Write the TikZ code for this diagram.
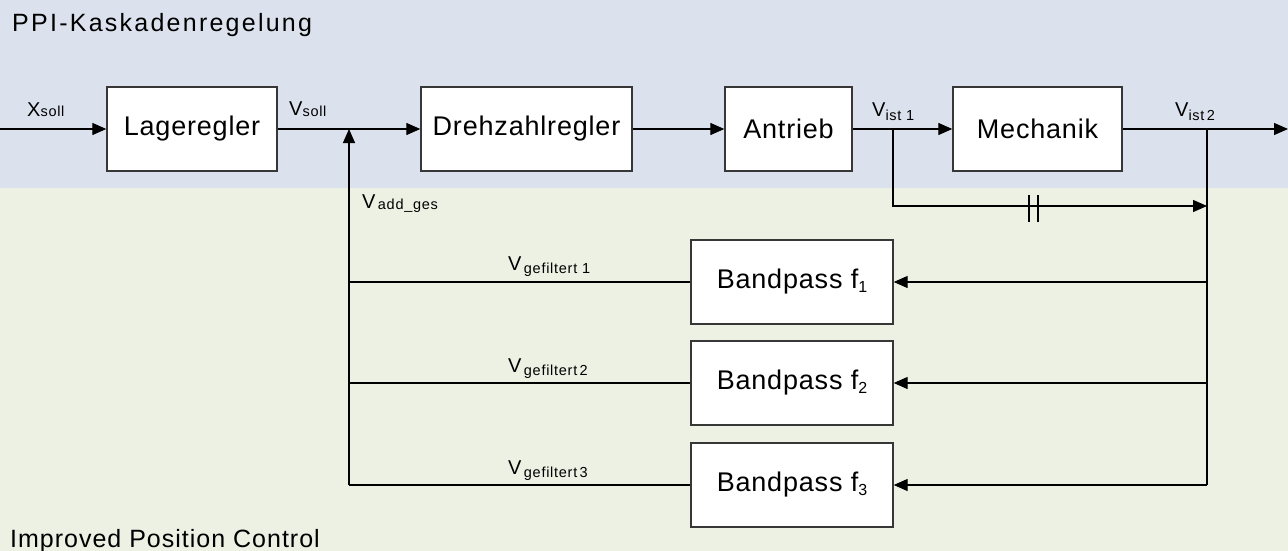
\documentclass[tikz,border=0pt]{standalone}
\usepackage{fontspec}
\setmainfont{Liberation Sans}
\newfontfamily\boxfont{Liberation Sans}[LetterSpace=3]
\newfontfamily\lblfont{Liberation Sans}[LetterSpace=5]
\newfontfamily\ttlfont{Liberation Sans}[LetterSpace=9]
\newfontfamily\ttlbfont{Liberation Sans}[LetterSpace=4]
\usetikzlibrary{arrows.meta}
\definecolor{bluebg}{RGB}{220,226,237}
\definecolor{greenbg}{RGB}{236,241,228}
\definecolor{boxline}{RGB}{55,55,55}
\newcommand{\sig}[3][-2pt]{{\lblfont\fontsize{20}{20}\selectfont #2}\raisebox{#1}{\lblfont\fontsize{14.5}{14.5}\selectfont #3}}
\tikzset{
  blk/.style={draw=boxline, fill=white, line width=1.4pt, minimum height=84pt, inner sep=0pt,
    font=\boxfont\fontsize{27}{27}\selectfont},
  wire/.style={line width=1.3pt, black},
  arr/.style={wire, -{Triangle[length=14pt,width=12pt]}},
  lbl/.style={anchor=base west, inner sep=0pt},
  ttl/.style={anchor=base west, inner sep=0pt, font=\ttlfont\fontsize{25}{25}\selectfont},
  ttlb/.style={anchor=base west, inner sep=0pt, font=\ttlbfont\fontsize{25}{25}\selectfont}
}
\begin{document}
\begin{tikzpicture}[x=1pt,y=-1pt]
\useasboundingbox (0,0) rectangle (1288,551);
\fill[bluebg] (0,0) rectangle (1288,188);
\fill[greenbg] (0,188) rectangle (1288,551);

\node[ttl] (t1) at (12,32) {PPI-Kaskadenregelung};
\node[ttlb] (t2) at (10,547) {Improved Position Control};

% main path blocks
\node[blk, minimum width=170pt] (lr) at (192,129) {Lageregler};
\node[blk, minimum width=211pt] (dr) at (526.5,129) {Drehzahlregler};
\node[blk, minimum width=127pt] (an) at (788.5,129) {Antrieb};
\node[blk, minimum width=169pt] (me) at (1037.5,129) {Mechanik};
% bandpass blocks
\node[blk, minimum width=202pt] (bp1) at (792,282) {Bandpass f\raisebox{-4pt}{\fontsize{16}{16}\selectfont 1}};
\node[blk, minimum width=202pt] (bp2) at (792,383) {Bandpass f\raisebox{-4pt}{\fontsize{16}{16}\selectfont 2}};
\node[blk, minimum width=202pt] (bp3) at (792,485) {Bandpass f\raisebox{-4pt}{\fontsize{16}{16}\selectfont 3}};

% coordinates
\coordinate (in) at (0,129);
\coordinate (j1) at (349,129);
\coordinate (j2) at (893,129);
\coordinate (j3) at (1207,129);
\coordinate (out) at (1288,129);
\coordinate (byp) at (1207,206);
\coordinate (l1) at (349,282);
\coordinate (l2) at (349,383);
\coordinate (l3) at (349,485);
\coordinate (r1) at (1207,282);
\coordinate (r2) at (1207,383);
\coordinate (r3) at (1207,485);
\coordinate (c1a) at (1029,195);
\coordinate (c1b) at (1029,222);
\coordinate (c2a) at (1038,195);
\coordinate (c2b) at (1038,222);

% main path
\draw[arr] (in) -- (lr.west);
\draw[wire] (lr.east) -- (j1);
\draw[arr] (j1) -- (dr.west);
\draw[arr] (dr.east) -- (an.west);
\draw[wire] (an.east) -- (j2);
\draw[arr] (j2) -- (me.west);
\draw[wire] (me.east) -- (j3);
\draw[arr] (j3) -- (out);
% bypass
\draw[arr] (j2) |- (byp);
\draw[wire] (c1a) -- (c1b);
\draw[wire] (c2a) -- (c2b);
% feedback
\draw[wire] (j3) -- (r3);
\draw[arr] (r1) -- (bp1.east);
\draw[arr] (r2) -- (bp2.east);
\draw[arr] (r3) -- (bp3.east);
\draw[wire] (bp1.west) -- (l1);
\draw[wire] (bp2.west) -- (l2);
\draw[wire] (bp3.west) -- (l3);
\draw[arr] (l3) -- (j1);

% labels
\node[lbl] (xs) at (27,116) {\sig[-1pt]{X}{soll}};
\node[lbl] (vs) at (289,115) {\sig[-1pt]{V}{soll}};
\node[lbl] (vi1) at (872,117) {\sig[-3pt]{V}{ist 1}};
\node[lbl] (vi2) at (1175,117) {\sig[-3pt]{V}{ist\,2}};
\node[lbl] (va) at (362,208) {\sig[-1pt]{V}{\,add\_ges}};
\node[lbl] (vg1) at (508,270) {\sig[-3pt]{V}{\,gefiltert 1}};
\node[lbl] (vg2) at (508,372) {\sig[-3pt]{V}{\,gefiltert\,2}};
\node[lbl] (vg3) at (508,474) {\sig[-3pt]{V}{\,gefiltert\,3}};
\end{tikzpicture}
\end{document}
